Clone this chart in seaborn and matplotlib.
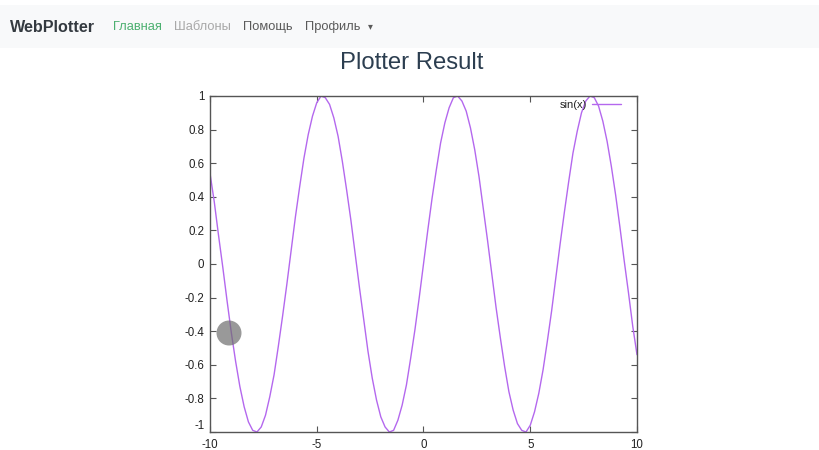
import matplotlib
matplotlib.use("Agg")
import matplotlib.pyplot as plt
from matplotlib.patches import Rectangle, Ellipse
import seaborn as sns
import pandas as pd

# ---- data ----
x_values = [-10.0, -9.8, -9.6, -9.4, -9.2, -9.0, -8.8, -8.6, -8.4, -8.2,
            -8.0, -7.8, -7.6, -7.4, -7.2, -7.0, -6.8, -6.6, -6.4, -6.2,
            -6.0, -5.8, -5.6, -5.4, -5.2, -5.0, -4.8, -4.6, -4.4, -4.2,
            -4.0, -3.8, -3.6, -3.4, -3.2, -3.0, -2.8, -2.6, -2.4, -2.2,
            -2.0, -1.8, -1.6, -1.4, -1.2, -1.0, -0.8, -0.6, -0.4, -0.2,
            0.0, 0.2, 0.4, 0.6, 0.8, 1.0, 1.2, 1.4, 1.6, 1.8,
            2.0, 2.2, 2.4, 2.6, 2.8, 3.0, 3.2, 3.4, 3.6, 3.8,
            4.0, 4.2, 4.4, 4.6, 4.8, 5.0, 5.2, 5.4, 5.6, 5.8,
            6.0, 6.2, 6.4, 6.6, 6.8, 7.0, 7.2, 7.4, 7.6, 7.8,
            8.0, 8.2, 8.4, 8.6, 8.8, 9.0, 9.2, 9.4, 9.6, 9.8, 10.0]
sin_values = [0.54, 0.37, 0.17, -0.02, -0.22, -0.41, -0.58, -0.73, -0.85, -0.94,
              -0.99, -1.00, -0.97, -0.90, -0.79, -0.66, -0.49, -0.31, -0.12, 0.08,
              0.28, 0.46, 0.63, 0.77, 0.88, 0.96, 1.00, 0.99, 0.95, 0.87,
              0.76, 0.61, 0.44, 0.26, 0.06, -0.14, -0.33, -0.52, -0.68, -0.81,
              -0.91, -0.97, -1.00, -0.99, -0.93, -0.84, -0.72, -0.56, -0.39, -0.20,
              0.00, 0.20, 0.39, 0.56, 0.72, 0.84, 0.93, 0.99, 1.00, 0.97,
              0.91, 0.81, 0.68, 0.52, 0.33, 0.14, -0.06, -0.26, -0.44, -0.61,
              -0.76, -0.87, -0.95, -0.99, -1.00, -0.96, -0.88, -0.77, -0.63, -0.46,
              -0.28, -0.08, 0.12, 0.31, 0.49, 0.66, 0.79, 0.90, 0.97, 1.00,
              0.99, 0.94, 0.85, 0.73, 0.58, 0.41, 0.22, 0.02, -0.17, -0.37, -0.54]
series_label = "sin(x)"
x_ticks = [-10, -5, 0, 5, 10]
x_tick_labels = ["-10", "-5", "0", "5", "10"]
y_ticks = [-1, -0.8, -0.6, -0.4, -0.2, 0, 0.2, 0.4, 0.6, 0.8, 1]
y_tick_labels = ["-1", "-0.8", "-0.6", "-0.4", "-0.2", "0", "0.2", "0.4", "0.6", "0.8", "1"]
nav_brand = "WebPlotter"
nav_items = ["Главная", "Шаблоны", "Помощь", "Профиль"]
page_title = "Plotter Result"

sns.set_theme(style="ticks")
plt.rcParams["font.family"] = ["Liberation Sans", "DejaVu Sans"]

W, H = 820, 450
fig = plt.figure(figsize=(W / 100, H / 100), dpi=100)
fig.patch.set_facecolor("white")

def fx(px):
    return px / W

def fy(py):
    return 1 - py / H

# navbar
fig.patches.append(Rectangle((0, fy(48)), 1, (48 - 5) / H, transform=fig.transFigure,
                             facecolor="#f8f9fa", edgecolor="none", zorder=0))
fig.text(fx(10), fy(27), nav_brand, fontsize=11.6, fontweight="bold", color="#343a40",
         va="center", ha="left")
nav_x = [113, 174, 243, 305]
nav_colors = ["#4cb070", "#a8a8a8", "#5a5a5a", "#5a5a5a"]
for label, px, col in zip(nav_items, nav_x, nav_colors):
    fig.text(fx(px), fy(27), label, fontsize=9.3, color=col, va="center", ha="left")
fig.text(fx(368), fy(26), "▾", fontsize=7, color="#5a5a5a", va="center", ha="left",
         family=["DejaVu Sans"])

# page title
fig.text(fx(412), fy(63), page_title, fontsize=17.2, color="#2c3e50", ha="center", va="center")

# plot
ax = fig.add_axes([fx(210), fy(432), (637 - 210) / W, (432 - 96) / H])
df = pd.DataFrame({"x": x_values, "y": sin_values})
sns.lineplot(data=df, x="x", y="y", ax=ax, color="#b468ee", linewidth=1.0, label=series_label)
ax.set_xlim(-10, 10)
ax.set_ylim(-1, 1)
ax.set_xticks(x_ticks)
ax.set_xticklabels(x_tick_labels)
ax.set_yticks(y_ticks)
ax.set_yticklabels(y_tick_labels)
ax.set_xlabel("")
ax.set_ylabel("")
ax.set_facecolor("white")
for sp in ax.spines.values():
    sp.set_visible(True)
    sp.set_color("#555555")
    sp.set_linewidth(1.0)
ax.tick_params(direction="in", length=4, width=0.8, color="#555555",
               top=True, right=True, labelsize=8.3, labelcolor="#222222")
ax.tick_params(axis="y", pad=4)
ax.tick_params(axis="x", pad=5)
# lift the lowest y label a touch so it clears the "-10" below it
ax.get_yticklabels()[0].set_verticalalignment("bottom")
leg = ax.legend(loc="upper right", frameon=False, markerfirst=False, fontsize=8,
                handlelength=2.6, borderaxespad=0.1, handletextpad=0.4,
                bbox_to_anchor=(0.975, 1.005))
for t in leg.get_texts():
    t.set_color("#222222")

# grey cursor highlight
fig.patches.append(Ellipse((fx(229), fy(333)), 25 / W, 25 / H, transform=fig.transFigure,
                           facecolor="#6e6e6e", alpha=0.7, edgecolor="none", zorder=10))

fig.savefig("out.png", dpi=100)
